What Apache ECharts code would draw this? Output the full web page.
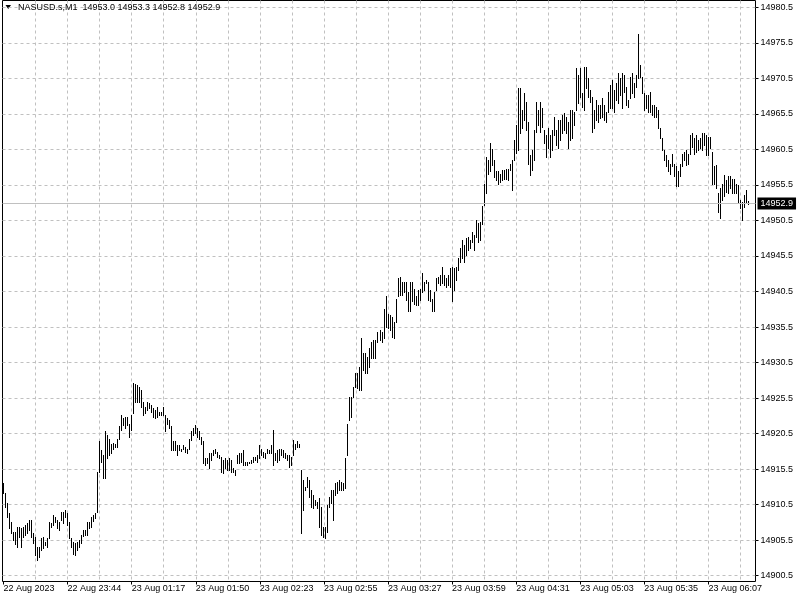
<!DOCTYPE html>
<html>
<head>
<meta charset="utf-8">
<script src="https://cdn.jsdelivr.net/npm/echarts@6/dist/echarts.min.js"></script>
<style>html,body{margin:0;padding:0;background:#fff}#c{width:800px;height:600px}</style>
</head>
<body>
<div id="c"></div>
<script>
const symbolName = 'NASUSD.s,M1';
const lastBar = ['14953.0', '14953.3', '14952.8', '14952.9'];
const lastPrice = 14952.9;
const tickLabels = ['22 Aug 2023', '22 Aug 23:44', '23 Aug 01:17', '23 Aug 01:50', '23 Aug 02:23', '23 Aug 02:55',
  '23 Aug 03:27', '23 Aug 03:59', '23 Aug 04:31', '23 Aug 05:03', '23 Aug 05:35', '23 Aug 06:07'];
const yTicks = { min: 14900.5, max: 14980.5, step: 5 };

const highs = [
14913.5,14912.1,14910.7,14909.3,14908.1,14906.7,14906.6,14907.4,14907.4,14907.2,
14907.4,14907.6,14907.9,14908.3,14908.3,14906.5,14906.0,14904.6,14904.6,14905.8,
14906.0,14905.3,14905.8,14908.1,14907.9,14909.0,14908.8,14908.3,14908.1,14909.5,
14909.5,14909.7,14909.3,14908.1,14905.8,14905.3,14905.1,14905.3,14905.5,14906.2,
14906.9,14906.9,14908.1,14908.1,14908.8,14909.0,14909.3,14915.1,14919.4,14918.2,
14917.5,14920.8,14920.3,14919.8,14919.1,14919.2,14919.1,14919.8,14921.5,14923.1,
14922.7,14922.9,14922.9,14921.9,14923.1,14927.6,14927.5,14927.3,14927.1,14926.6,
14925.0,14924.3,14924.9,14924.8,14924.5,14924.1,14923.8,14924.3,14923.6,14923.6,
14924.3,14923.1,14922.7,14922.4,14921.5,14919.4,14919.4,14918.9,14918.9,14918.4,
14918.9,14918.6,14918.4,14919.8,14920.8,14921.3,14921.7,14921.3,14920.8,14920.0,
14919.4,14917.0,14917.0,14917.7,14917.7,14918.2,14918.4,14917.9,14917.5,14917.2,
14916.8,14917.0,14916.8,14917.0,14916.8,14915.6,14915.4,14917.5,14917.7,14917.7,
14918.2,14916.5,14916.5,14916.5,14916.8,14917.2,14917.2,14917.5,14918.9,14918.4,
14917.9,14917.7,14918.4,14918.2,14918.9,14921.0,14917.7,14918.2,14918.4,14918.4,
14918.2,14917.7,14917.5,14917.5,14917.2,14919.6,14919.1,14919.4,14919.1,14915.4,
14914.0,14913.0,14914.4,14914.0,14912.6,14911.9,14911.2,14910.9,14911.4,14910.2,
14907.4,14907.4,14910.5,14911.6,14912.6,14912.6,14913.5,14913.7,14914.0,14913.7,
14913.5,14917.0,14921.9,14925.7,14925.7,14927.1,14929.0,14929.0,14929.9,14933.9,
14931.8,14931.8,14931.3,14932.5,14933.4,14933.7,14933.7,14934.8,14935.1,14934.8,
14938.1,14939.8,14937.4,14937.2,14936.9,14936.2,14939.5,14942.4,14942.6,14941.9,
14941.9,14941.9,14940.5,14941.9,14941.9,14940.9,14939.8,14940.7,14940.9,14943.1,
14941.9,14942.1,14941.9,14940.7,14939.5,14940.5,14942.4,14942.6,14942.8,14944.0,
14942.8,14942.4,14942.8,14943.8,14944.0,14943.8,14944.0,14945.2,14946.6,14947.7,
14947.0,14948.0,14948.2,14947.7,14948.9,14948.4,14950.6,14950.1,14950.3,14952.5,
14955.7,14959.5,14959.0,14961.4,14960.6,14959.0,14957.4,14957.4,14957.1,14957.6,
14957.6,14957.8,14957.8,14958.5,14959.0,14961.8,14963.9,14969.1,14969.1,14966.1,
14968.4,14967.2,14964.4,14959.7,14960.4,14963.2,14967.2,14966.1,14967.2,14966.3,
14963.2,14962.5,14963.5,14962.5,14963.2,14965.1,14963.2,14964.6,14964.6,14965.3,
14965.6,14965.1,14964.4,14966.1,14966.1,14965.8,14971.9,14971.0,14971.9,14968.4,
14972.1,14972.1,14970.5,14968.9,14967.9,14966.1,14967.5,14966.7,14966.7,14967.7,
14966.7,14965.8,14968.6,14969.6,14970.3,14968.9,14969.8,14971.2,14970.5,14971.2,
14971.0,14969.3,14967.5,14970.7,14971.2,14969.8,14971.0,14976.8,14972.4,14970.7,
14968.4,14968.2,14968.2,14968.6,14966.7,14966.7,14966.5,14966.1,14963.5,14962.1,
14960.4,14959.7,14959.0,14958.5,14959.9,14958.5,14958.1,14957.4,14958.5,14959.9,
14960.2,14960.4,14959.9,14962.5,14962.8,14962.1,14962.5,14961.8,14962.1,14962.8,
14962.8,14962.5,14962.3,14962.3,14960.2,14958.1,14958.3,14954.3,14955.0,14955.7,
14956.9,14956.2,14956.7,14956.7,14956.4,14956.4,14955.7,14955.5,14953.4,14953.1,
14954.1,14954.8,14953.3
];

const lows = [
14912.2,14910.2,14908.8,14907.2,14906.5,14905.5,14905.0,14904.6,14906.0,14904.6,
14906.0,14906.2,14906.5,14906.9,14906.0,14905.1,14903.4,14902.7,14903.2,14904.1,
14904.4,14904.8,14904.6,14905.8,14907.4,14907.6,14908.1,14907.2,14906.9,14908.3,
14907.9,14908.8,14907.6,14905.8,14904.6,14903.6,14903.4,14904.1,14904.6,14905.1,
14906.1,14906.2,14906.2,14907.2,14907.4,14908.2,14908.6,14909.5,14915.1,14916.5,
14914.2,14914.2,14917.0,14917.5,14917.7,14918.4,14918.6,14918.6,14919.8,14921.0,
14921.7,14921.3,14921.7,14920.0,14921.0,14923.4,14925.0,14925.0,14925.0,14924.3,
14923.1,14923.4,14923.8,14924.1,14923.6,14922.9,14922.7,14922.9,14923.1,14923.1,
14923.1,14920.8,14921.9,14921.3,14918.2,14918.2,14918.2,14917.5,14918.2,14918.1,
14918.3,14917.9,14917.8,14918.4,14919.6,14920.3,14920.6,14920.0,14919.8,14919.1,
14916.3,14916.1,14916.3,14915.6,14916.8,14917.5,14917.7,14917.2,14917.0,14915.1,
14914.9,14915.6,14915.4,14915.4,14915.1,14915.1,14914.7,14916.3,14916.3,14916.5,
14916.1,14916.1,14916.1,14916.3,14916.3,14916.5,14916.8,14916.5,14917.0,14917.5,
14917.2,14917.0,14917.7,14917.7,14917.7,14916.1,14916.8,14916.5,14916.8,14917.5,
14917.2,14917.0,14916.8,14915.8,14916.1,14917.5,14918.4,14918.6,14918.6,14906.5,
14909.7,14912.6,14913.0,14911.6,14910.2,14910.0,14910.5,14910.0,14907.4,14906.2,
14906.0,14905.8,14906.7,14910.2,14910.7,14908.3,14911.9,14912.1,14912.6,14912.6,
14912.6,14912.8,14917.5,14922.4,14922.9,14925.7,14927.1,14926.9,14926.6,14926.6,
14929.4,14929.0,14929.0,14929.9,14931.1,14931.1,14931.1,14933.4,14933.7,14933.4,
14933.9,14935.5,14935.3,14935.1,14934.1,14933.9,14936.2,14939.8,14940.0,14940.0,
14940.5,14939.3,14937.7,14937.7,14939.1,14938.8,14938.6,14938.6,14939.3,14940.5,
14940.7,14941.7,14939.3,14939.1,14937.7,14937.7,14940.7,14941.7,14941.4,14941.7,
14941.4,14941.2,14941.4,14941.2,14939.1,14940.7,14942.1,14943.5,14944.7,14945.2,
14944.7,14945.6,14946.3,14946.6,14947.5,14946.3,14948.2,14947.5,14947.7,14950.0,
14952.7,14954.3,14957.1,14957.4,14958.3,14956.6,14956.2,14955.7,14955.9,14956.2,
14956.4,14956.4,14956.2,14957.6,14954.8,14959.0,14960.0,14960.4,14962.8,14963.5,
14964.6,14963.2,14958.5,14956.9,14957.6,14959.0,14963.0,14963.9,14963.0,14963.7,
14961.4,14959.5,14960.7,14959.5,14960.4,14962.5,14961.1,14960.7,14961.8,14962.8,
14963.2,14962.8,14960.7,14961.8,14962.1,14963.9,14966.1,14967.0,14967.9,14966.5,
14966.1,14969.1,14967.9,14967.2,14963.0,14963.5,14964.6,14964.4,14964.9,14965.1,
14964.6,14964.4,14965.8,14966.3,14966.3,14965.8,14967.5,14967.0,14968.2,14966.3,
14968.6,14966.7,14966.5,14967.7,14968.4,14967.9,14969.3,14970.5,14970.7,14968.4,
14966.1,14966.3,14965.8,14965.8,14965.3,14965.1,14965.1,14963.5,14962.1,14960.4,
14959.0,14958.1,14957.4,14957.1,14958.1,14956.7,14955.3,14955.3,14956.7,14958.1,
14959.0,14958.3,14958.5,14959.9,14960.9,14959.9,14960.2,14960.4,14960.7,14960.4,
14961.1,14959.7,14959.7,14960.7,14955.7,14955.7,14955.0,14951.7,14950.8,14953.4,
14953.9,14954.5,14954.3,14955.0,14954.3,14954.3,14954.3,14953.1,14952.2,14950.6,
14952.4,14952.9,14952.8
];

// one category per minute bar, plus a little empty room on the right (chart shift)
const BARS_PER_LABEL = 32;
const BARS_PER_GRID = 16;
const categories = [];
for (let i = 0; i < highs.length + 3; i++) categories.push(String(i));

const FONT = 'Liberation Sans';
const GRIDC = '#c0c0c0';

const chart = echarts.init(document.getElementById('c'), null, { renderer: 'canvas' });

function renderBar(params, api) {
  const i = api.value(0);
  const top = api.coord([i, api.value(1)]);
  const bot = api.coord([i, api.value(2)]);
  const x = Math.floor(top[0]) + 0.5;
  return {
    type: 'line',
    shape: { x1: x, y1: Math.round(top[1]), x2: x, y2: Math.round(bot[1]) + 1 },
    style: { stroke: '#000', lineWidth: 1 }
  };
}

const option = {
  animation: false,
  backgroundColor: '#fff',
  title: {
    text: symbolName + '  ' + lastBar.join(' '),
    left: 18, top: 3, padding: 0,
    textStyle: { fontSize: 9, fontWeight: 'normal', color: '#000', fontFamily: FONT }
  },
  graphic: [{
    type: 'polygon', shape: { points: [[5.5, 5], [11, 5], [8.25, 9]] }, style: { fill: '#000' }
  }],
  grid: [
    { left: 2.5, right: 44.5, top: 0.5, bottom: 18.5, show: true, borderColor: '#000', borderWidth: 1,
      backgroundColor: 'transparent', containLabel: false, outerBoundsMode: 'none' },
    { left: 2.5, right: 44.5, top: 7.3, height: 568.4, show: false, containLabel: false, outerBoundsMode: 'none' }
  ],
  xAxis: [
    {
      gridIndex: 0, type: 'category', data: categories, boundaryGap: true,
      axisLine: { show: false },
      axisTick: {
        show: true, alignWithLabel: true, length: 3, lineStyle: { color: '#000' },
        interval: (idx) => idx % BARS_PER_LABEL === 0 && idx < highs.length
      },
      axisLabel: {
        show: true, align: 'left', margin: 3, color: '#000', fontSize: 9, fontFamily: FONT,
        interval: (idx) => idx % BARS_PER_LABEL === 0 && idx < highs.length,
        formatter: (v, idx) => tickLabels[Math.round(idx / BARS_PER_LABEL)] || ''
      },
      splitLine: {
        show: true, alignWithLabel: true,
        interval: (idx) => idx % BARS_PER_GRID === 0 && idx > 0,
        lineStyle: { color: GRIDC, type: [3, 3], width: 1 }
      }
    },
    { gridIndex: 1, type: 'category', data: categories, boundaryGap: true, show: false }
  ],
  yAxis: [
    { gridIndex: 0, type: 'value', min: 0, max: 1, show: false },
    {
      gridIndex: 1, type: 'value', position: 'right',
      min: yTicks.min, max: yTicks.max, interval: yTicks.step,
      axisLine: { show: false },
      axisTick: { show: true, length: 3, lineStyle: { color: '#000' } },
      axisLabel: { margin: 5, color: '#000', fontSize: 9, fontFamily: FONT, formatter: (v) => v.toFixed(1) },
      splitLine: { show: true, lineStyle: { color: GRIDC, type: [3, 3], width: 1 } }
    }
  ],
  series: [{
    type: 'custom',
    xAxisIndex: 1, yAxisIndex: 1,
    renderItem: renderBar,
    encode: { x: 0, y: [1, 2] },
    data: highs.map((h, i) => [i, h, lows[i]]),
    markLine: {
      silent: true, symbol: 'none', animation: false,
      lineStyle: { color: GRIDC, type: 'solid', width: 1 },
      label: {
        show: true, position: 'end', distance: 2,
        formatter: lastPrice.toFixed(1),
        color: '#fff', backgroundColor: '#000', padding: [2, 3, 1, 3],
        fontSize: 9, fontFamily: FONT
      },
      data: [{ yAxis: lastPrice }]
    }
  }]
};
chart.setOption(option);
</script>
</body>
</html>
